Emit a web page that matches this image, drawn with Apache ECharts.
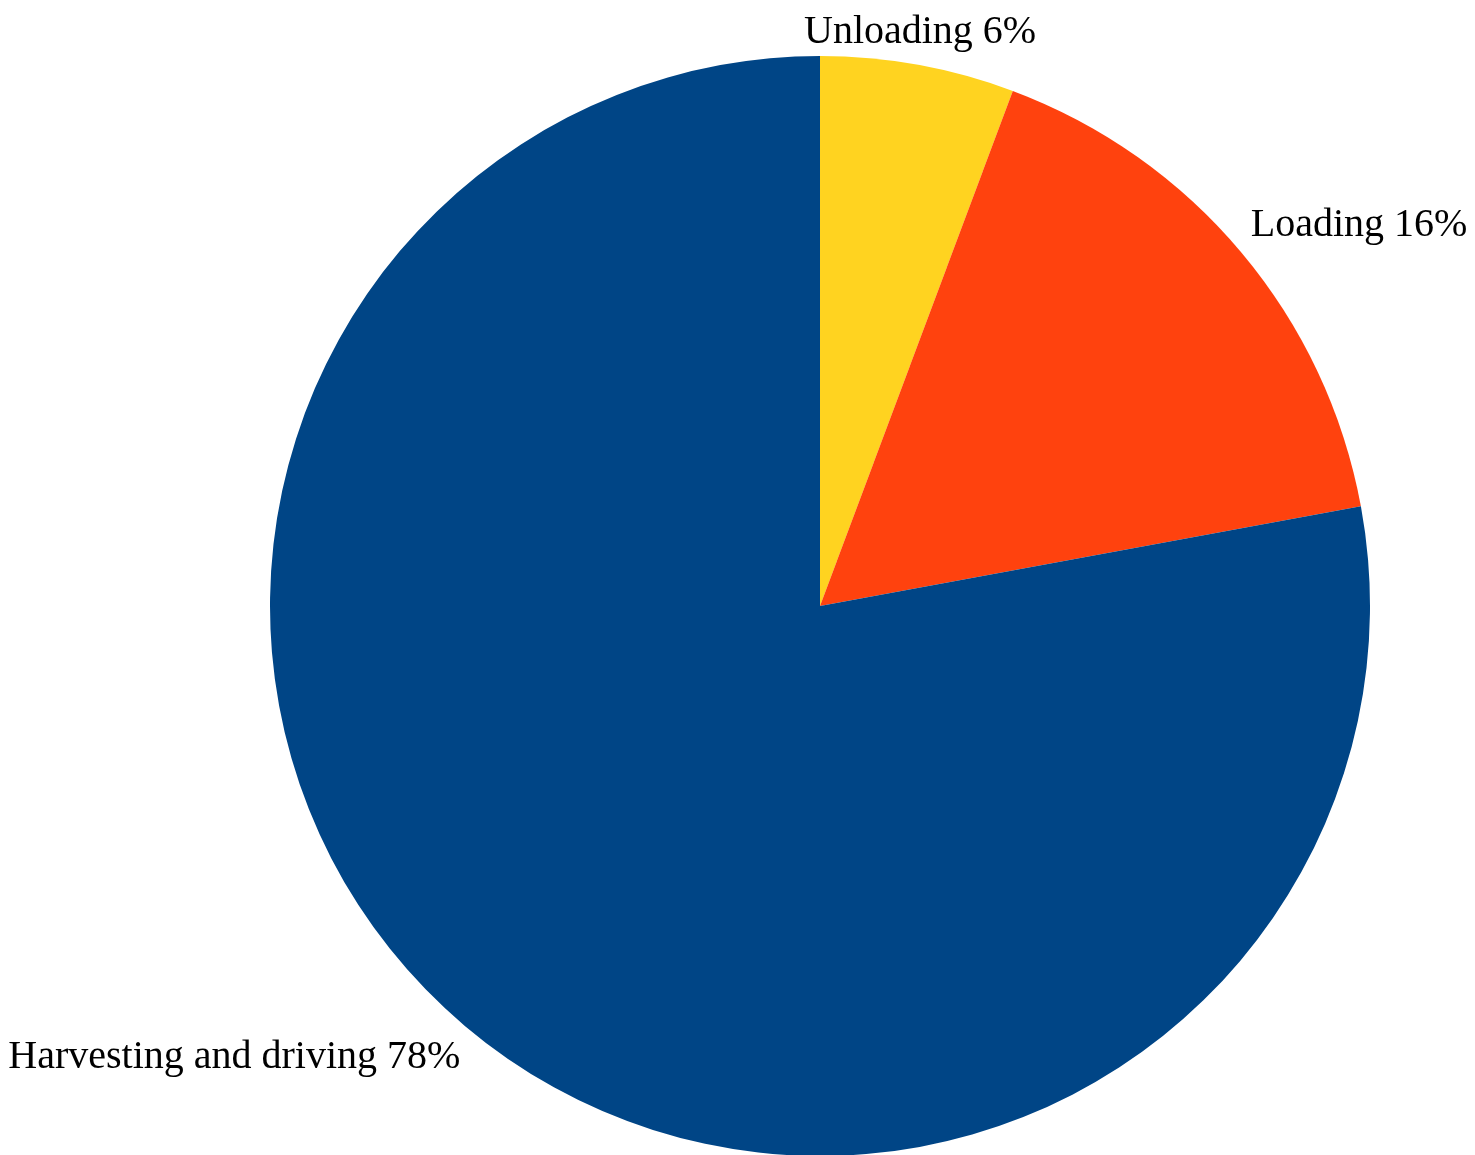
<!DOCTYPE html>
<html>
<head>
<meta charset="utf-8">
<script src="https://cdn.jsdelivr.net/npm/echarts@6/dist/echarts.min.js"></script>
<style>html,body{margin:0;padding:0;background:#fff}#c{width:1475px;height:1155px}</style>
</head>
<body>
<div id="c"></div>
<script>
const categories = ['Unloading', 'Loading', 'Harvesting and driving'];
const values = [5.7, 16.4, 77.9];
const colors = ['#FFD320', '#FF420E', '#004586'];
const labelAligns = [['center', 'bottom'], ['left', 'bottom'], ['right', 'top']];

const chart = echarts.init(document.getElementById('c'), null, {renderer: 'canvas'});
chart.setOption({
  animation: false,
  backgroundColor: '#ffffff',
  series: [{
    type: 'pie',
    center: [820, 606],
    radius: [0, 550],
    startAngle: 90,
    clockwise: true,
    percentPrecision: 0,
    avoidLabelOverlap: false,
    data: categories.map((c, i) => ({name: c, value: values[i], itemStyle: {color: colors[i]}})),
    label: {
      show: true,
      position: 'outside',
      formatter: '{b} {d}%',
      fontFamily: '"Liberation Serif", "Times New Roman", serif',
      fontSize: 40,
      color: '#000',
      distanceToLabelLine: 0
    },
    labelLine: {show: false, length: 12, length2: 0},
    labelLayout: function (p) {
      const a = labelAligns[p.dataIndex];
      return {align: a[0], verticalAlign: a[1]};
    },
    emphasis: {disabled: true}
  }]
});
</script>
</body>
</html>
